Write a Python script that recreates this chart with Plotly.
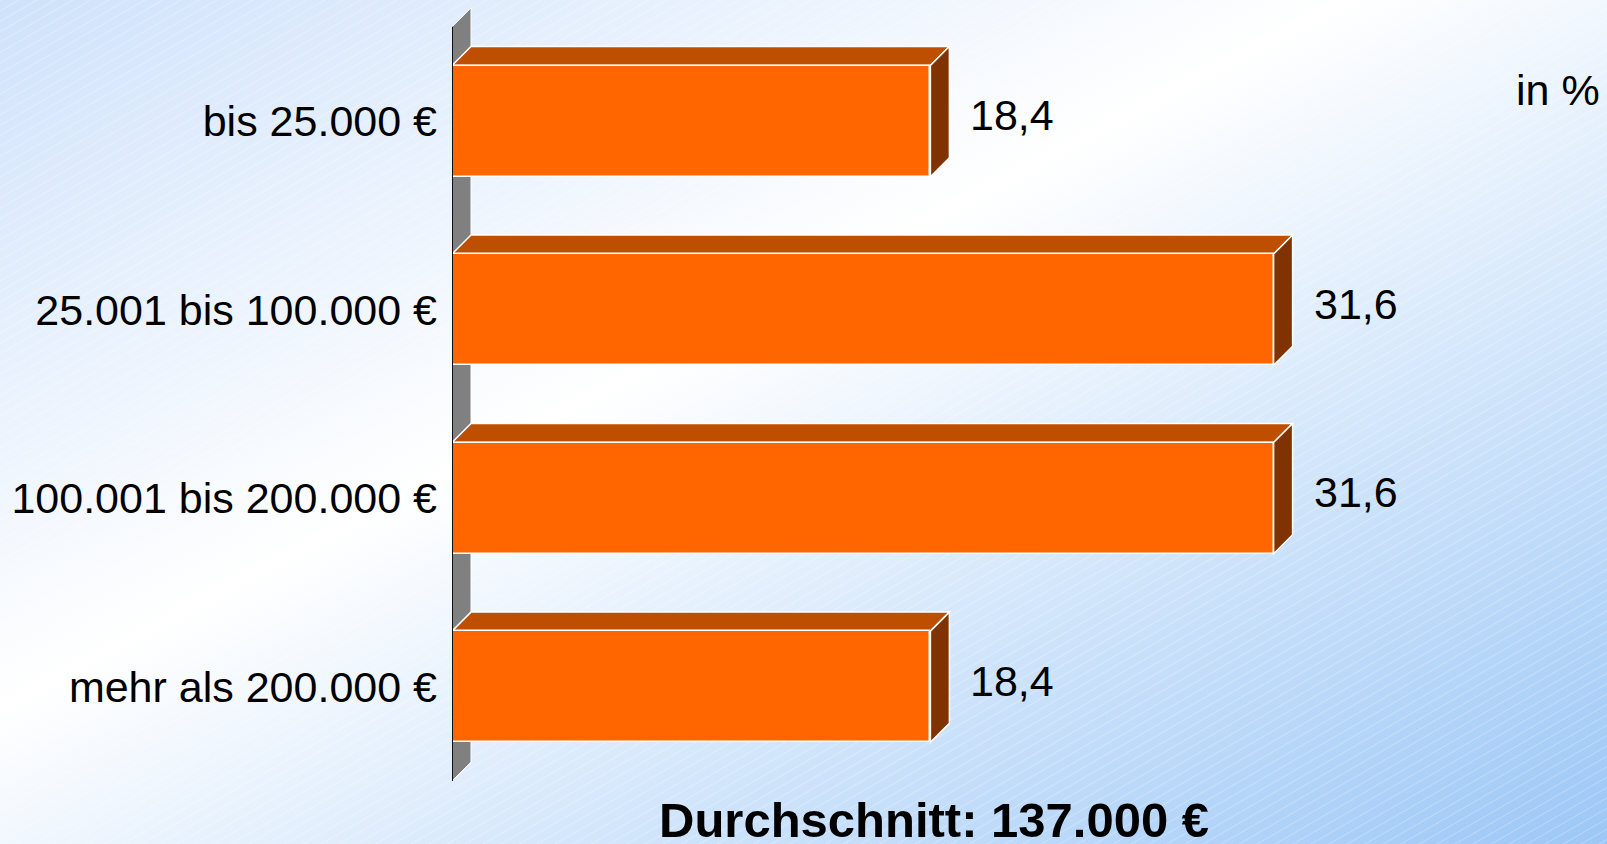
import base64
import plotly.graph_objects as go

# ---------------- data ----------------
categories = ["bis 25.000 €", "25.001 bis 100.000 €", "100.001 bis 200.000 €", "mehr als 200.000 €"]
values = [18.4, 31.6, 31.6, 18.4]
unit_label = "in %"
footer = "Durchschnitt: 137.000 €"

# ---------------- geometry / style ----------------
W, H = 1607, 844
ML, MR, MT, MB = 452, 5, 8, 63
PLOT_W = W - ML - MR
PLOT_H = H - MT - MB
X_MAX = PLOT_W / 26.0
Y_RANGE = [3.5, -0.6]
BAR_W = 0.59
DX = 19 / 26.0             # depth in x data units
DY = 19 / (PLOT_H / 4.1)   # depth in y data units

FRONT = "#ff6600"
TOP = "#bf4f00"
SIDE = "#803300"
WALL = "#808080"
FONT = "Liberation Sans, Arial, sans-serif"

positions = list(range(len(categories)))

# ---------------- background ----------------
svg = f'''<svg xmlns="http://www.w3.org/2000/svg" width="{W}" height="{H}" viewBox="0 0 {W} {H}" preserveAspectRatio="none">
<defs>
<linearGradient id="g" x1="0" y1="0" x2="1" y2="1">
<stop offset="0" stop-color="#cfe2fb"/>
<stop offset="0.42" stop-color="#ffffff"/>
<stop offset="1" stop-color="#9cc7f6"/>
</linearGradient>
<pattern id="h" width="9" height="9" patternUnits="userSpaceOnUse" patternTransform="rotate(-30)">
<line x1="0" y1="0.5" x2="9" y2="0.5" stroke="#ffffff" stroke-width="1" stroke-opacity="0.25"/>
</pattern>
</defs>
<rect width="{W}" height="{H}" fill="url(#g)"/>
<rect width="{W}" height="{H}" fill="url(#h)"/>
</svg>'''
bg_uri = "data:image/svg+xml;base64," + base64.b64encode(svg.encode("utf-8")).decode("ascii")

fig = go.Figure()
fig.add_trace(go.Bar(
    x=values, y=positions, orientation="h", width=BAR_W,
    marker=dict(color=FRONT, line=dict(color="white", width=1.5)),
    hoverinfo="skip", showlegend=False,
))

shapes = []
# back wall
y_lo, y_hi = -0.5, len(categories) - 0.5
shapes.append(dict(
    type="path", xref="x", yref="y", layer="below",
    path=f"M 0,{y_lo} L {DX},{y_lo - DY} L {DX},{y_hi - DY} L 0,{y_hi} Z",
    fillcolor=WALL, line=dict(color="white", width=1),
))
# bar top + side faces
for p, v in zip(positions, values):
    yt = p - BAR_W / 2
    yb = p + BAR_W / 2
    shapes.append(dict(
        type="path", xref="x", yref="y", layer="below",
        path=f"M 0,{yt} L {DX},{yt - DY} L {v + DX},{yt - DY} L {v},{yt} Z",
        fillcolor=TOP, line=dict(color="white", width=1.5),
    ))
    shapes.append(dict(
        type="path", xref="x", yref="y", layer="below",
        path=f"M {v},{yt} L {v + DX},{yt - DY} L {v + DX},{yb - DY} L {v},{yb} Z",
        fillcolor=SIDE, line=dict(color="white", width=1.5),
    ))
# axis line
shapes.append(dict(
    type="line", xref="x", yref="y", layer="above",
    x0=0, x1=0, y0=y_lo, y1=y_hi, line=dict(color="#111111", width=2),
))

annotations = []
for p, v in zip(positions, values):
    annotations.append(dict(
        x=v, y=p, xref="x", yref="y", xanchor="left", yanchor="middle",
        xshift=38, yshift=6, showarrow=False,
        text=f"{v:.1f}".replace(".", ","),
        font=dict(family=FONT, size=43, color="black"),
    ))
annotations.append(dict(
    x=1, y=1 - (90 - MT) / PLOT_H, xref="paper", yref="paper",
    xanchor="right", yanchor="middle", showarrow=False, text=unit_label,
    font=dict(family=FONT, size=43, color="black"),
))
annotations.append(dict(
    x=(934 - ML) / PLOT_W, y=-(820 - (MT + PLOT_H)) / PLOT_H, xref="paper", yref="paper",
    xanchor="center", yanchor="middle", showarrow=False, text=f"<b>{footer}</b>",
    font=dict(family=FONT, size=49, color="black"),
))

fig.update_layout(
    width=W, height=H,
    margin=dict(l=ML, r=MR, t=MT, b=MB, pad=0, autoexpand=False),
    paper_bgcolor="white",
    plot_bgcolor="rgba(0,0,0,0)",
    shapes=shapes,
    annotations=annotations,
    images=[dict(
        source=bg_uri, xref="paper", yref="paper",
        x=-ML / PLOT_W, y=1 + MT / PLOT_H,
        sizex=W / PLOT_W, sizey=H / PLOT_H,
        xanchor="left", yanchor="top", sizing="stretch", layer="below",
    )],
    xaxis=dict(range=[0, X_MAX], visible=False, showgrid=False, zeroline=False),
    yaxis=dict(
        range=Y_RANGE, tickvals=positions, ticktext=categories,
        showgrid=False, zeroline=False, showline=False, ticks="",
        ticklabelstandoff=14,
        tickfont=dict(family=FONT, size=43, color="black"),
    ),
    bargap=0,
    showlegend=False,
)

fig.write_html(
    "out.html",
    config={"displayModeBar": False},
    post_script="document.body.style.margin='0';document.body.style.overflow='hidden';",
)
